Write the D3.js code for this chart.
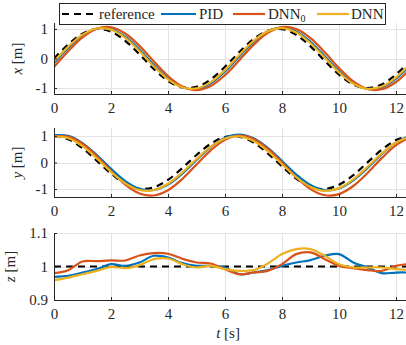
<!DOCTYPE html>
<html>
<head>
<meta charset="utf-8">
<script src="https://cdn.jsdelivr.net/npm/d3@7/dist/d3.min.js"></script>
<style>
  html, body { margin: 0; padding: 0; background: #fff; }
  svg { display: block; }
</style>
</head>
<body>
<svg id="chart" width="406" height="345" font-family="Liberation Serif">
  <text id="tlabel" x="228" y="338" text-anchor="middle" fill="#262626" font-size="15" font-family="Liberation Serif"><tspan font-style="italic">t</tspan> [s]</text>
</svg>
<script>
const time = [0,0.5,1,1.5,2,2.5,3,3.5,4,4.5,5,5.5,6,6.5,7,7.5,8,8.5,9,9.5,10,10.5,11,11.5,12,12.5];

const seriesNames = ["reference", "PID", "DNN0", "DNN"];
const seriesColors = ["#000000", "#0072BD", "#D95319", "#EDB120"];

const xRef  = [0,0.479,0.841,0.997,0.909,0.598,0.141,-0.351,-0.757,-0.978,-0.959,-0.706,-0.279,0.215,0.657,0.938,0.989,0.798,0.412,-0.075,-0.544,-0.880,-1.000,-0.875,-0.537,-0.066];
const xPID  = [-0.155,0.357,0.781,1.015,0.999,0.739,0.298,-0.216,-0.678,-0.973,-1.031,-0.836,-0.436,0.070,0.559,0.911,1.041,0.914,0.565,0.078,-0.430,-0.832,-1.030,-0.975,-0.684,-0.223];
const xDNN0 = [-0.286,0.243,0.713,1.008,1.056,0.846,0.428,-0.094,-0.593,-0.948,-1.070,-0.931,-0.563,-0.057,0.461,0.868,1.062,0.995,0.686,0.208,-0.321,-0.771,-1.032,-1.040,-0.795,-0.353];
const xDNN  = [-0.103,0.401,0.806,1.015,0.975,0.696,0.247,-0.264,-0.709,-0.980,-1.012,-0.797,-0.385,0.119,0.595,0.925,1.029,0.880,0.516,0.026,-0.472,-0.853,-1.025,-0.947,-0.637,-0.171];

const yRef  = [1,0.878,0.540,0.071,-0.416,-0.801,-0.990,-0.936,-0.654,-0.211,0.284,0.709,0.960,0.977,0.754,0.347,-0.146,-0.602,-0.911,-0.997,-0.839,-0.475,0.004,0.483,0.844,0.998];
const yPID  = [1.029,1.003,0.732,0.281,-0.238,-0.699,-0.990,-1.036,-0.831,-0.421,0.092,0.582,0.930,1.050,0.913,0.553,0.057,-0.452,-0.851,-1.042,-0.977,-0.673,-0.205,0.314,0.756,1.013];
const yDNN0 = [0.975,0.975,0.706,0.236,-0.322,-0.830,-1.165,-1.243,-1.047,-0.624,-0.077,0.459,0.853,1.010,0.889,0.522,-0.004,-0.556,-1.003,-1.233,-1.191,-0.886,-0.395,0.165,0.654,0.955];
const yDNN  = [0.983,0.917,0.616,0.157,-0.353,-0.785,-1.036,-1.042,-0.803,-0.377,0.132,0.597,0.907,0.986,0.812,0.431,-0.066,-0.557,-0.921,-1.069,-0.965,-0.635,-0.160,0.345,0.756,0.973];

const zRef  = [1,1,1,1,1,1,1,1,1,1,1,1,1,1,1,1,1,1,1,1,1,1,1,1,1,1];
const zPID  = [0.969,0.972,0.982,0.992,1.007,1.002,1.012,1.032,1.027,1.010,1.002,1.002,0.997,0.977,0.982,0.989,1.002,1.012,1.019,1.032,1.037,1.012,0.997,0.980,0.982,0.982];
const zDNN0 = [0.980,0.989,1.015,1.016,1.018,1.018,1.033,1.040,1.038,1.023,1.012,1.009,0.992,0.977,0.982,0.987,1.007,1.037,1.042,1.022,1.002,0.995,0.989,0.987,1.002,1.008];
const zDNN  = [0.959,0.967,0.977,0.987,0.999,0.995,1.004,1.022,1.024,1.007,0.997,1.002,0.992,0.987,0.989,1.009,1.037,1.052,1.052,1.032,1.007,0.997,0.997,0.997,0.992,0.989];

const xTicks = [0,2,4,6,8,10,12];
const panel1Ticks = [-1,0,1];
const panel2Ticks = [-1,0,1];
const panel3Ticks = [0.9,1,1.1];

// ---- layout ----
const svg = d3.select("#chart");
const xScale = d3.scaleLinear().domain([0, 12.35]).range([54, 406]);

const panels = [
  { id: "p1", label: "x", domain: [-1.2, 1.2], range: [94, 23], ticks: panel1Ticks, fmt: d => d === -1 ? "-1" : String(d), data: [xRef, xPID, xDNN0, xDNN], labelX: 22 },
  { id: "p2", label: "y", domain: [-1.3, 1.3], range: [197, 128], ticks: panel2Ticks, fmt: d => d === -1 ? "-1" : String(d), data: [yRef, yPID, yDNN0, yDNN], labelX: 22 },
  { id: "p3", label: "z", domain: [0.9, 1.1], range: [300, 233], ticks: panel3Ticks, fmt: d => d === 1 ? "1" : d3.format(".1f")(d), data: [zRef, zPID, zDNN0, zDNN], labelX: 15 }
];

const defs = svg.append("defs");
const axisColor = "#262626";
const gridColor = "#e3e3e3";
const fontSize = 15;

panels.forEach(p => {
  const yScale = d3.scaleLinear().domain(p.domain).range(p.range);
  const top = p.range[1], bottom = p.range[0];
  const left = xScale.range()[0], right = xScale.range()[1];

  defs.append("clipPath").attr("id", "clip-" + p.id)
    .append("rect").attr("x", left).attr("y", top - 2).attr("width", right - left).attr("height", bottom - top + 2);

  const g = svg.append("g");
  g.selectAll(".gx").data(xTicks).enter().append("line")
    .attr("x1", d => Math.round(xScale(d)) + 0.5).attr("x2", d => Math.round(xScale(d)) + 0.5)
    .attr("y1", top).attr("y2", bottom)
    .attr("stroke", gridColor).attr("stroke-width", 1);
  g.selectAll(".gy").data(p.ticks).enter().append("line")
    .attr("x1", left).attr("x2", right)
    .attr("y1", d => Math.round(yScale(d)) + 0.5).attr("y2", d => Math.round(yScale(d)) + 0.5)
    .attr("stroke", gridColor).attr("stroke-width", 1);

  const line = d3.line()
    .x((d, i) => xScale(time[i]))
    .y(d => yScale(d))
    .curve(d3.curveCatmullRom.alpha(0.5));
  const lg = g.append("g").attr("clip-path", "url(#clip-" + p.id + ")");
  p.data.forEach((arr, k) => {
    lg.append("path")
      .attr("d", line(arr))
      .attr("fill", "none")
      .attr("stroke", seriesColors[k])
      .attr("stroke-width", 2.2)
      .attr("stroke-dasharray", k === 0 ? "7,5" : null);
  });

  const yAxis = d3.axisLeft(yScale).tickValues(p.ticks).tickSize(-3).tickPadding(6).tickFormat(p.fmt);
  const ya = g.append("g").attr("transform", `translate(${left},0)`).call(yAxis);
  ya.select(".domain").attr("d", `M0.5,${top}V${bottom}`);
  const xAxis = d3.axisBottom(xScale).tickValues(xTicks).tickSize(-3).tickPadding(8).tickFormat(d3.format("d"));
  const xa = g.append("g").attr("transform", `translate(0,${bottom})`).call(xAxis);
  xa.select(".domain").attr("d", `M${left},0.5H${right}`);
  [ya, xa].forEach(a => {
    a.attr("font-family", "Liberation Serif").attr("font-size", fontSize);
    a.selectAll(".domain").attr("stroke", axisColor).attr("stroke-width", 1);
    a.selectAll(".tick line").attr("stroke", axisColor);
    a.selectAll(".tick text").attr("fill", axisColor);
  });

  const lab = g.append("text")
    .attr("transform", `translate(${p.labelX},${(top + bottom) / 2}) rotate(-90)`)
    .attr("text-anchor", "middle")
    .attr("fill", axisColor)
    .attr("font-family", "Times New Roman")
    .attr("font-size", fontSize);
  lab.append("tspan").attr("font-style", "italic").text(p.label);
  lab.append("tspan").text(" [m]");
});

const leg = svg.append("g");
leg.append("rect").attr("x", 59.5).attr("y", 3.5).attr("width", 326).attr("height", 21)
  .attr("fill", "#fff").attr("stroke", axisColor).attr("stroke-width", 1);
const legItems = [
  { x1: 62, x2: 96, tx: 99 },
  { x1: 161, x2: 196, tx: 199 },
  { x1: 233, x2: 265, tx: 268 },
  { x1: 317, x2: 349, tx: 351 }
];
legItems.forEach((it, k) => {
  leg.append("line").attr("x1", it.x1).attr("x2", it.x2).attr("y1", 14).attr("y2", 14)
    .attr("stroke", seriesColors[k]).attr("stroke-width", 2.2)
    .attr("stroke-dasharray", k === 0 ? "7,5" : null);
  const t = leg.append("text").attr("x", it.tx).attr("y", 19)
    .attr("fill", axisColor).attr("font-family", "serif").attr("font-size", fontSize);
  if (seriesNames[k] === "DNN0") {
    t.append("tspan").text("DNN");
    t.append("tspan").attr("font-size", 10).attr("dy", 3).text("0");
  } else {
    t.text(seriesNames[k]);
  }
});
</script>
</body>
</html>
